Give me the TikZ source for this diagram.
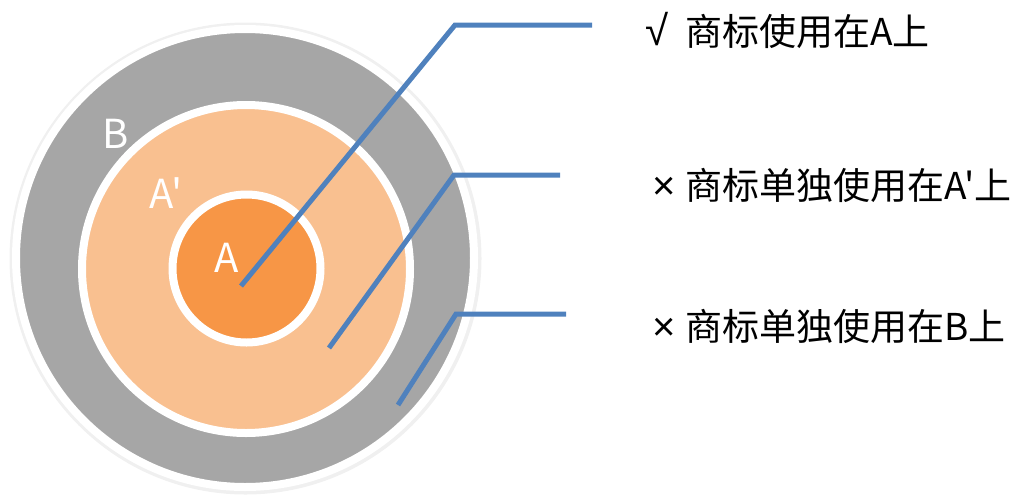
\documentclass[tikz,border=0pt]{standalone}
\usepackage{fontspec}
\setmainfont{Noto Sans CJK SC}
\newfontfamily\cjk{Noto Sans CJK SC}
\newfontfamily\symf{Liberation Sans}
\usetikzlibrary{shadows}
\definecolor{ringgray}{HTML}{A6A6A6}
\definecolor{lightorange}{HTML}{F9C090}
\definecolor{deeporange}{HTML}{F79646}
\definecolor{leadblue}{HTML}{4F81BD}
\tikzset{
  ring/.style={circle, draw=white, line width=8pt, inner sep=0pt},
  lead/.style={draw=leadblue, line width=5pt},
  lbl/.style={text=white, font=\cjk\fontsize{40}{40}\selectfont, inner sep=0pt},
  note/.style={anchor=west, font=\cjk\fontsize{37}{37}\selectfont, inner sep=0pt, text=black},
}
\newcommand{\verdict}[2]{\makebox[40pt][l]{\symf\fontsize{#1}{#1}\selectfont #2}}
\begin{document}
\begin{tikzpicture}[x=1pt,y=-1pt]
\useasboundingbox (0,0) rectangle (1017,496);
\fill[black!6] (245.5,258.5) circle (236pt);
\node[ring, fill=ringgray, minimum size=458pt] (B) at (245,258) {};
\node[ring, fill=lightorange, minimum size=328pt, drop shadow={opacity=0.25, shadow xshift=2pt, shadow yshift=-2pt}] (Ap) at (246,269) {};
\node[ring, fill=deeporange, minimum size=148pt, drop shadow={opacity=0.25, shadow xshift=2pt, shadow yshift=-2pt}] (A) at (246.5,268.5) {};
\node[lbl] (lB) at (116,134) {B};
\node[lbl] (lAp) at (166,193) {A'};
\node[lbl] (lA) at (227,258) {A};
\coordinate (s1) at (241,286);
\coordinate (k1) at (455,25);
\coordinate (e1) at (592,25);
\coordinate (s2) at (329,348);
\coordinate (k2) at (454,175);
\coordinate (e2) at (560,175);
\coordinate (s3) at (398,405);
\coordinate (k3) at (456,314);
\coordinate (e3) at (566,314);
\draw[lead] (s1) -- (k1) -- (e1);
\draw[lead] (s2) -- (k2) -- (e2);
\draw[lead] (s3) -- (k3) -- (e3);
\node[note] (t1) at (645,30) {\verdict{42}{√}商标使用在A上};
\node[note] (t2) at (645,185) {\verdict{40}{\hspace{7pt}×}商标单独使用在A'上};
\node[note] (t3) at (645,326) {\verdict{40}{\hspace{7pt}×}商标单独使用在B上};
\end{tikzpicture}
\end{document}
